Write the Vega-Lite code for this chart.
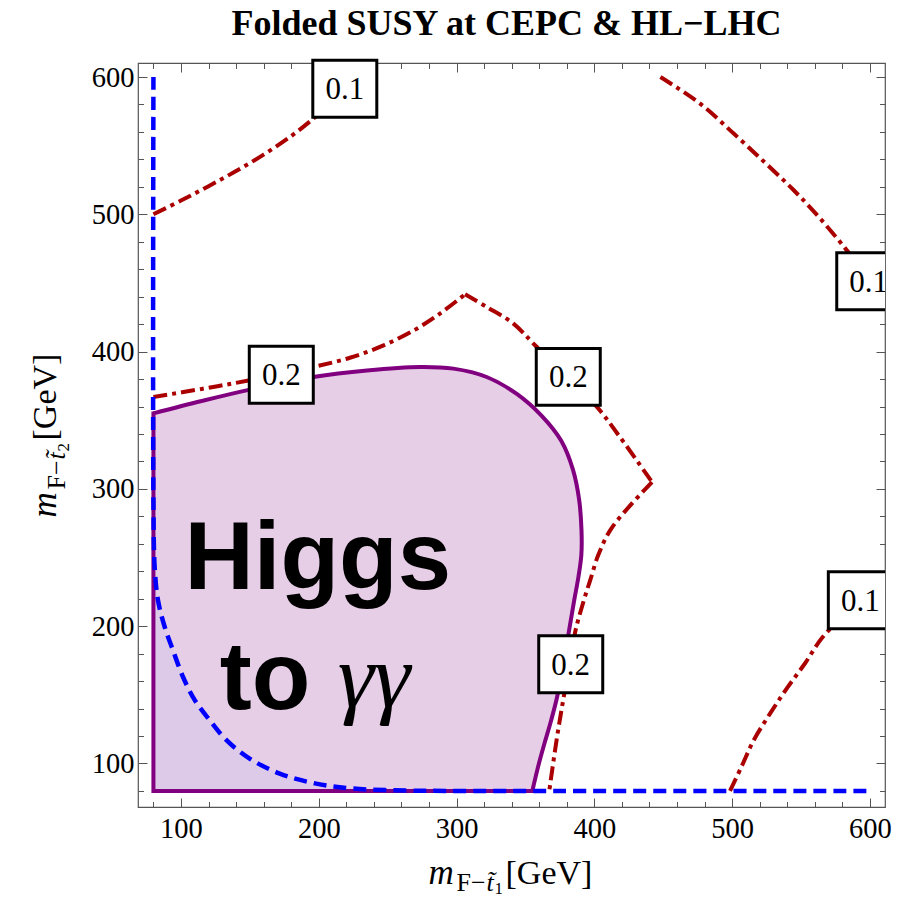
{
  "$schema": "https://vega.github.io/schema/vega-lite/v6.json",
  "width": 747,
  "height": 744,
  "autosize": {"type": "none"},
  "padding": {"left": 138, "top": 63, "right": 28, "bottom": 90},
  "background": "white",
  "config": {
    "view": {"stroke": "#555", "strokeWidth": 1.2},
    "axis": {"grid": false, "domain": false, "tickColor": "#555", "tickWidth": 1, "labelFont": "Liberation Serif", "labelFontSize": 28.5, "labelColor": "black", "labelFlush": false, "labelOverlap": false, "titleFont": "Liberation Serif", "titleFontWeight": "normal", "titleColor": "black", "titlePadding": 0, "minExtent": 0, "maxExtent": 0}
  },
  "datasets": {
    "purpleFill": [
      {"y": 80, "x": 355, "x2": 80}, {"y": 100, "x": 359.7, "x2": 80}, {"y": 114.5, "x": 363.1, "x2": 80}, {"y": 130, "x": 367.8, "x2": 80},
      {"y": 148.4, "x": 373.3, "x2": 80}, {"y": 170, "x": 377, "x2": 80}, {"y": 194.6, "x": 381.3, "x2": 80}, {"y": 218.8, "x": 385.4, "x2": 80},
      {"y": 237, "x": 388.5, "x2": 80}, {"y": 255, "x": 390.6, "x2": 80}, {"y": 270, "x": 390.5, "x2": 80}, {"y": 289.3, "x": 388.5, "x2": 80},
      {"y": 313.5, "x": 384.9, "x2": 80}, {"y": 333, "x": 377.6, "x2": 80}, {"y": 350, "x": 365.6, "x2": 80}, {"y": 355, "x": 359.8, "x2": 80},
      {"y": 366.9, "x": 346.1, "x2": 128.2}, {"y": 372.3, "x": 337.1, "x2": 150}, {"y": 381.5, "x": 321.9, "x2": 196}, {"y": 385, "x": 308, "x2": 233.2},
      {"y": 387.6, "x": 297.7, "x2": 260.8}, {"y": 389, "x": 284, "x2": 279}
    ],
    "lavFill": [
      {"x": 80, "y": 291.7}, {"x": 80.9, "y": 243}, {"x": 83.3, "y": 218.9}, {"x": 88.2, "y": 199.4}, {"x": 94.2, "y": 182.4},
      {"x": 101.5, "y": 163}, {"x": 110, "y": 146.1}, {"x": 120.9, "y": 131.5}, {"x": 133, "y": 117}, {"x": 149.8, "y": 103.6},
      {"x": 171.7, "y": 92.6}, {"x": 195.9, "y": 85.8}, {"x": 225, "y": 81.7}, {"x": 263.8, "y": 80.3}, {"x": 300, "y": 80}
    ],
    "purpleStraight": [{"x": 355, "y": 80}, {"x": 80, "y": 80}, {"x": 80, "y": 355}],
    "purpleCurve": [
      {"x": 80, "y": 355}, {"x": 115, "y": 364}, {"x": 150, "y": 372.3}, {"x": 196, "y": 381.5}, {"x": 235, "y": 386.3},
      {"x": 273.5, "y": 388.8}, {"x": 297.7, "y": 387.6}, {"x": 321.9, "y": 381.5}, {"x": 344, "y": 369}, {"x": 362, "y": 353},
      {"x": 376, "y": 335}, {"x": 384.5, "y": 314}, {"x": 389, "y": 292}, {"x": 390.7, "y": 270}, {"x": 390.6, "y": 252},
      {"x": 388.5, "y": 236}, {"x": 385.4, "y": 218.8}, {"x": 381.3, "y": 194.6}, {"x": 377, "y": 170}, {"x": 373, "y": 148.4},
      {"x": 368.3, "y": 130}, {"x": 363.8, "y": 114.5}, {"x": 359.8, "y": 100}, {"x": 355, "y": 80}
    ],
    "red02": [
      {"s": "a", "x": 80, "y": 367}, {"s": "a", "x": 115, "y": 372.8}, {"s": "a", "x": 149.9, "y": 379.1}, {"s": "a", "x": 195.9, "y": 388.8},
      {"s": "a", "x": 222.6, "y": 395.5}, {"s": "a", "x": 247, "y": 404.5}, {"s": "a", "x": 270, "y": 416}, {"s": "a", "x": 288, "y": 427.7}, {"s": "a", "x": 306.2, "y": 441.7},
      {"s": "b", "x": 306.2, "y": 441.7}, {"s": "b", "x": 321.9, "y": 432.5}, {"s": "b", "x": 341.3, "y": 420.4}, {"s": "b", "x": 357, "y": 404.6},
      {"s": "b", "x": 380, "y": 382}, {"s": "b", "x": 401.9, "y": 359.7}, {"s": "b", "x": 418.6, "y": 337.8}, {"s": "b", "x": 441.9, "y": 305},
      {"s": "c", "x": 441.9, "y": 305}, {"s": "c", "x": 426.1, "y": 288}, {"s": "c", "x": 411.5, "y": 269.8}, {"s": "c", "x": 402.8, "y": 251.6},
      {"s": "c", "x": 397, "y": 233.4}, {"s": "c", "x": 392.4, "y": 218.8}, {"s": "c", "x": 386.4, "y": 197}, {"s": "c", "x": 382, "y": 172},
      {"s": "c", "x": 377.4, "y": 146.1}, {"s": "c", "x": 372.6, "y": 116.9}, {"s": "c", "x": 367.3, "y": 80}
    ],
    "red01a": [
      {"x": 80, "y": 500}, {"x": 100, "y": 510}, {"x": 120, "y": 520.5}, {"x": 140, "y": 531.5}, {"x": 160, "y": 543.5},
      {"x": 180, "y": 557}, {"x": 197, "y": 570.5}, {"x": 212, "y": 584}, {"x": 225, "y": 600}
    ],
    "red01b": [
      {"x": 448, "y": 600}, {"x": 476.8, "y": 580.6}, {"x": 501.2, "y": 558.8}, {"x": 524, "y": 537.5}, {"x": 544.8, "y": 517.5},
      {"x": 563, "y": 498}, {"x": 582.3, "y": 475}, {"x": 600, "y": 452}
    ],
    "red01c": [
      {"x": 498.5, "y": 80}, {"x": 507, "y": 98}, {"x": 515.7, "y": 116.9}, {"x": 528, "y": 137}, {"x": 540, "y": 155},
      {"x": 553, "y": 173}, {"x": 565.8, "y": 192.1}, {"x": 583, "y": 209}, {"x": 600, "y": 221}
    ],
    "blue": [
      {"x": 80, "y": 600}, {"x": 80, "y": 291.7}, {"x": 80.9, "y": 243}, {"x": 83.3, "y": 218.9}, {"x": 88.2, "y": 199.4},
      {"x": 94.2, "y": 182.4}, {"x": 101.5, "y": 163}, {"x": 110, "y": 146.1}, {"x": 120.9, "y": 131.5}, {"x": 133, "y": 117},
      {"x": 149.8, "y": 103.6}, {"x": 171.7, "y": 92.6}, {"x": 195.9, "y": 85.8}, {"x": 225, "y": 81.7}, {"x": 263.8, "y": 80.3},
      {"x": 300, "y": 80}, {"x": 600, "y": 80}
    ],
    "labelsFree": [
      {"x": 218.9, "y": 591.4, "t": "0.1"}, {"x": 172.8, "y": 383.1, "t": "0.2"}, {"x": 381.1, "y": 381.6, "t": "0.2"}, {"x": 382.9, "y": 172.3, "t": "0.2"}
    ],
    "labelsEdge": [
      {"x": 599.2, "y": 451.2, "t": "0.1"}, {"x": 593.1, "y": 218.9, "t": "0.1"}
    ],
    "bigSans": [
      {"x": 102.5, "y": 227.4, "t": "Higgs"}, {"x": 128.1, "y": 140, "t": "to"}
    ],
    "bigGreek": [
      {"x": 213.8, "y": 141.5, "t": "γγ"}
    ]
  },
  "resolve": {"axis": {"x": "independent", "y": "independent"}},
  "encoding": {
    "x": {"field": "x", "type": "quantitative", "scale": {"domain": [68.8, 611], "nice": false, "zero": false}, "axis": null},
    "y": {"field": "y", "type": "quantitative", "scale": {"domain": [68.3, 610.2], "nice": false, "zero": false}, "axis": null}
  },
  "layer": [
    {
      "data": {"name": "purpleFill"},
      "mark": {"type": "area", "orient": "horizontal", "color": "#E7CEE7", "opacity": 1},
      "encoding": {
        "x": {"field": "x", "type": "quantitative", "scale": {"domain": [68.8, 611], "nice": false, "zero": false},
          "axis": {"orient": "bottom", "values": [80,100,120,140,160,180,200,220,240,260,280,300,320,340,360,380,400,420,440,460,480,500,520,540,560,580,600],
            "tickSize": {"condition": {"test": "datum.value % 100 === 0", "value": -9}, "value": -5.5},
            "labelExpr": "datum.value % 100 === 0 ? datum.label : ''", "labelBaseline": "alphabetic", "labelAlign": "center", "labelPadding": 39,
            "title": "[GeV]", "titleFontSize": 34, "titleX": 367, "titleY": 76, "titleAlign": "left", "titleBaseline": "alphabetic", "titleAngle": 0}},
        "x2": {"field": "x2"},
        "y": {"field": "y", "type": "quantitative", "scale": {"domain": [68.3, 610.2], "nice": false, "zero": false},
          "axis": {"orient": "left", "values": [80,100,120,140,160,180,200,220,240,260,280,300,320,340,360,380,400,420,440,460,480,500,520,540,560,580,600],
            "tickSize": {"condition": {"test": "datum.value % 100 === 0", "value": -9}, "value": -5.5},
            "labelExpr": "datum.value % 100 === 0 ? datum.label : ''", "labelBaseline": "middle", "labelAlign": "right", "labelPadding": 13,
            "title": "[GeV]", "titleFontSize": 34, "titleX": -83, "titleY": 377, "titleAlign": "left", "titleBaseline": "alphabetic", "titleAngle": 270}}
      }
    },
    {
      "data": {"name": "lavFill"},
      "mark": {"type": "area", "color": "#DDC9E8", "opacity": 1},
      "encoding": {
        "x": {"field": "x", "type": "quantitative", "scale": {"domain": [68.8, 611], "nice": false, "zero": false},
          "axis": {"orient": "top", "values": [80,100,120,140,160,180,200,220,240,260,280,300,320,340,360,380,400,420,440,460,480,500,520,540,560,580,600],
            "tickSize": {"condition": {"test": "datum.value % 100 === 0", "value": -9}, "value": -5.5}, "labels": false,
            "title": "Folded SUSY at CEPC & HL−LHC", "titleFontSize": 36, "titleFontWeight": "bold", "titleX": 368, "titleY": -29, "titleAlign": "center", "titleBaseline": "alphabetic", "titleAngle": 0}},
        "y": {"field": "y", "type": "quantitative", "scale": {"domain": [68.3, 610.2], "nice": false, "zero": false},
          "axis": {"orient": "right", "values": [80,100,120,140,160,180,200,220,240,260,280,300,320,340,360,380,400,420,440,460,480,500,520,540,560,580,600],
            "tickSize": {"condition": {"test": "datum.value % 100 === 0", "value": -9}, "value": -5.5}, "labels": false, "title": null}},
        "y2": {"datum": 80}
      }
    },
    {
      "data": {"name": "purpleStraight"},
      "mark": {"type": "line", "color": "#800080", "strokeWidth": 4, "strokeJoin": "miter", "strokeCap": "square"},
      "encoding": {
        "x": {"field": "x", "type": "quantitative", "scale": {"domain": [68.8, 611], "nice": false, "zero": false},
          "axis": {"orient": "bottom", "ticks": false, "labels": false, "title": "m", "titleFontStyle": "italic", "titleFontSize": 35, "titleX": 290, "titleY": 76, "titleAlign": "left", "titleBaseline": "alphabetic", "titleAngle": 0}},
        "y": {"field": "y", "type": "quantitative", "scale": {"domain": [68.3, 610.2], "nice": false, "zero": false},
          "axis": {"orient": "left", "ticks": false, "labels": false, "title": "m", "titleFontStyle": "italic", "titleFontSize": 35, "titleX": -83, "titleY": 454, "titleAlign": "left", "titleBaseline": "alphabetic", "titleAngle": 270}},
        "order": {"value": null}
      }
    },
    {
      "data": {"name": "purpleCurve"},
      "mark": {"type": "line", "color": "#800080", "strokeWidth": 4, "interpolate": "catmull-rom"},
      "encoding": {
        "x": {"field": "x", "type": "quantitative", "scale": {"domain": [68.8, 611], "nice": false, "zero": false},
          "axis": {"orient": "bottom", "ticks": false, "labels": false, "title": "F−", "titleFontSize": 26, "titleX": 318, "titleY": 83, "titleAlign": "left", "titleBaseline": "alphabetic", "titleAngle": 0}},
        "y": {"field": "y", "type": "quantitative", "scale": {"domain": [68.3, 610.2], "nice": false, "zero": false},
          "axis": {"orient": "left", "ticks": false, "labels": false, "title": "F−", "titleFontSize": 26, "titleX": -74, "titleY": 426, "titleAlign": "left", "titleBaseline": "alphabetic", "titleAngle": 270}},
        "order": {"value": null}
      }
    },
    {
      "data": {"name": "red02"},
      "mark": {"type": "line", "color": "#AA0000", "strokeWidth": 4, "strokeDash": [14, 5, 4, 5], "interpolate": "catmull-rom"},
      "encoding": {
        "x": {"field": "x", "type": "quantitative", "scale": {"domain": [68.8, 611], "nice": false, "zero": false},
          "axis": {"orient": "bottom", "ticks": false, "labels": false, "title": "t̃", "titleFontStyle": "italic", "titleFontSize": 26, "titleX": 348, "titleY": 83, "titleAlign": "left", "titleBaseline": "alphabetic", "titleAngle": 0}},
        "y": {"field": "y", "type": "quantitative", "scale": {"domain": [68.3, 610.2], "nice": false, "zero": false},
          "axis": {"orient": "left", "ticks": false, "labels": false, "title": "t̃", "titleFontStyle": "italic", "titleFontSize": 26, "titleX": -74, "titleY": 396, "titleAlign": "left", "titleBaseline": "alphabetic", "titleAngle": 270}},
        "detail": {"field": "s"},
        "order": {"value": null}
      }
    },
    {
      "data": {"name": "red01a"},
      "mark": {"type": "line", "color": "#AA0000", "strokeWidth": 4, "strokeDash": [14, 5, 4, 5], "interpolate": "catmull-rom"},
      "encoding": {
        "x": {"field": "x", "type": "quantitative", "scale": {"domain": [68.8, 611], "nice": false, "zero": false},
          "axis": {"orient": "bottom", "ticks": false, "labels": false, "title": "1", "titleFontSize": 17, "titleX": 356, "titleY": 86, "titleAlign": "left", "titleBaseline": "alphabetic", "titleAngle": 0}},
        "y": {"field": "y", "type": "quantitative", "scale": {"domain": [68.3, 610.2], "nice": false, "zero": false},
          "axis": {"orient": "left", "ticks": false, "labels": false, "title": "2", "titleFontSize": 17, "titleX": -70, "titleY": 388, "titleAlign": "left", "titleBaseline": "alphabetic", "titleAngle": 270}},
        "order": {"value": null}
      }
    },
    {
      "data": {"name": "red01b"},
      "mark": {"type": "line", "color": "#AA0000", "strokeWidth": 4, "strokeDash": [14, 5, 4, 5], "interpolate": "catmull-rom"},
      "encoding": {"order": {"value": null}}
    },
    {
      "data": {"name": "red01c"},
      "mark": {"type": "line", "color": "#AA0000", "strokeWidth": 4, "strokeDash": [14, 5, 4, 5], "interpolate": "catmull-rom"},
      "encoding": {"order": {"value": null}}
    },
    {
      "data": {"name": "blue"},
      "mark": {"type": "line", "color": "#0000FF", "strokeWidth": 4.5, "strokeDash": [13, 7], "interpolate": "catmull-rom"},
      "encoding": {"order": {"value": null}}
    },
    {
      "data": {"name": "labelsFree"},
      "mark": {"type": "point", "shape": "M-1,-0.89H1V0.89H-1Z", "size": 4096, "fill": "white", "stroke": "black", "strokeWidth": 3, "opacity": 1, "fillOpacity": 1, "strokeOpacity": 1, "filled": true},
      "encoding": {}
    },
    {
      "data": {"name": "labelsFree"},
      "mark": {"type": "text", "font": "Liberation Serif", "fontSize": 31, "color": "black", "align": "center", "baseline": "alphabetic", "dy": 10.5},
      "encoding": {"text": {"field": "t"}}
    },
    {
      "data": {"name": "labelsEdge"},
      "mark": {"type": "point", "shape": "M-1,-0.89H1V0.89H-1Z", "size": 4096, "fill": "white", "stroke": "black", "strokeWidth": 3, "opacity": 1, "fillOpacity": 1, "strokeOpacity": 1, "filled": true, "clip": true},
      "encoding": {}
    },
    {
      "data": {"name": "labelsEdge"},
      "mark": {"type": "text", "font": "Liberation Serif", "fontSize": 31, "color": "black", "align": "center", "baseline": "alphabetic", "dy": 10.5, "clip": true},
      "encoding": {"text": {"field": "t"}}
    },
    {
      "data": {"name": "bigSans"},
      "mark": {"type": "text", "font": "Liberation Sans", "fontSize": 96, "fontWeight": "bold", "color": "black", "align": "left", "baseline": "alphabetic"},
      "encoding": {"text": {"field": "t"}}
    },
    {
      "data": {"name": "bigGreek"},
      "mark": {"type": "text", "font": "Liberation Serif", "fontSize": 92, "fontStyle": "italic", "color": "black", "align": "left", "baseline": "alphabetic"},
      "encoding": {"text": {"field": "t"}}
    }
  ]
}
